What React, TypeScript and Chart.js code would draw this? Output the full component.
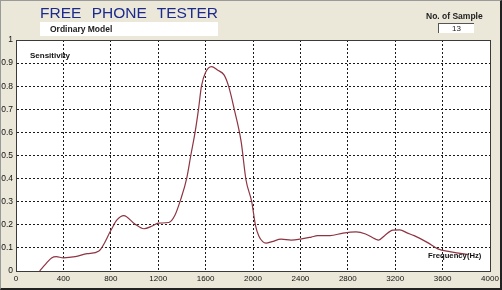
import React, { useEffect, useRef } from "react";
import { Chart, registerables } from "chart.js";

Chart.register(...registerables);

const freqHz = [
  200, 250, 300, 340, 400, 500, 600, 700, 800, 850, 910, 1000, 1080, 1150, 1200, 1290, 1340, 1390, 1440, 1475,
  1511, 1540, 1565, 1600, 1650, 1700, 1757, 1794, 1842, 1900, 1941, 1989, 2020, 2050, 2082, 2110, 2160, 2237,
  2322, 2400, 2492, 2545, 2650, 2760, 2870, 2950, 3030, 3060, 3110, 3180, 3240, 3300, 3360, 3470, 3560, 3660,
  3780, 3820,
];
const sensitivity = [
  0.0, 0.03, 0.056, 0.062, 0.057, 0.062, 0.075, 0.087, 0.175, 0.22, 0.24, 0.205, 0.183, 0.195, 0.207, 0.21,
  0.24, 0.31, 0.4, 0.5, 0.6, 0.7, 0.8, 0.86, 0.885, 0.87, 0.848, 0.8, 0.7, 0.56, 0.394, 0.3, 0.2, 0.15, 0.127,
  0.121, 0.127, 0.138, 0.134, 0.138, 0.147, 0.153, 0.153, 0.164, 0.169, 0.16, 0.139, 0.134, 0.153, 0.177,
  0.178, 0.165, 0.153, 0.124, 0.096, 0.084, 0.074, 0.072,
];
const xTicks = [0, 400, 800, 1200, 1600, 2000, 2400, 2800, 3200, 3600, 4000];
const yTicks = [0, 0.1, 0.2, 0.3, 0.4, 0.5, 0.6, 0.7, 0.8, 0.9, 1];
const yTickLabels = ["0", "0.1", "0.2", "0.3", "0.4", "0.5", "0.6", "0.7", "0.8", "0.9", "1"];

const BG = "#ebe8d9";

export default function App() {
  const ref = useRef<HTMLCanvasElement | null>(null);

  useEffect(() => {
    if (!ref.current) return;
    const bgPlugin = {
      id: "bgFrame",
      beforeDraw(chart: any) {
        const { ctx, chartArea: a } = chart;
        ctx.save();
        ctx.fillStyle = BG;
        ctx.fillRect(0, 0, chart.width, chart.height);
        ctx.fillStyle = "#ffffff";
        ctx.fillRect(a.left, a.top, a.right - a.left, a.bottom - a.top);
        ctx.restore();
      },
      afterDatasetsDraw(chart: any) {
        const { ctx, chartArea: a } = chart;
        ctx.save();
        ctx.strokeStyle = "#3a3a3a";
        ctx.lineWidth = 1;
        ctx.strokeRect(Math.round(a.left) + 0.5, Math.round(a.top) + 0.5, Math.round(a.right - a.left), Math.round(a.bottom - a.top));
        ctx.restore();
      },
    };
    const gridColor = (c: any) =>
      c.tick && (c.tick.value === 0 || c.tick.value === 4000 || c.tick.value === 1) ? "rgba(0,0,0,0)" : "#1a1a1a";
    const chart = new Chart(ref.current, {
      type: "line",
      data: {
        datasets: [
          {
            data: freqHz.map((f, i) => ({ x: f, y: sensitivity[i] })),
            borderColor: "#8e3442",
            borderWidth: 1.2,
            pointRadius: 0,
            cubicInterpolationMode: "monotone",
            fill: false,
          },
        ],
      },
      options: {
        responsive: false,
        animation: false,
        events: [],
        layout: { padding: { top: 40, left: 0, right: 12, bottom: 0 } },
        plugins: { legend: { display: false }, tooltip: { enabled: false } },
        scales: {
          x: {
            type: "linear",
            min: 0,
            max: 4000,
            afterBuildTicks: (axis: any) => {
              axis.ticks = xTicks.map((v) => ({ value: v }));
            },
            afterFit: (axis: any) => {
              axis.height = 19;
            },
            ticks: {
              autoSkip: false,
              maxRotation: 0,
              padding: 3,
              color: "#111",
              font: { family: "'Liberation Sans', Arial, sans-serif", size: 8 },
              callback: (v: any) => String(v),
            },
            grid: { color: gridColor, lineWidth: 1, drawTicks: false },
            border: { display: true, color: "#3a3a3a", dash: [2, 2] },
          },
          y: {
            min: 0,
            max: 1,
            afterBuildTicks: (axis: any) => {
              axis.ticks = yTicks.map((v) => ({ value: v }));
            },
            afterFit: (axis: any) => {
              axis.width = 16;
            },
            ticks: {
              autoSkip: false,
              padding: 3,
              color: "#111",
              font: { family: "'Liberation Sans', Arial, sans-serif", size: 8.5 },
              callback: (_v: any, i: number) => yTickLabels[i],
            },
            grid: { color: gridColor, lineWidth: 1, drawTicks: false },
            border: { display: true, color: "#3a3a3a", dash: [2, 2] },
          },
        },
      },
      plugins: [bgPlugin],
    } as any);
    return () => chart.destroy();
  }, []);

  const sans = "'Liberation Sans', Arial, sans-serif";
  return (
    <div
      style={{
        position: "absolute",
        left: 0,
        top: 0,
        width: 502,
        height: 290,
        background: BG,
        overflow: "hidden",
        fontFamily: sans,
      }}
    >
      <canvas ref={ref} width={502} height={290} style={{ position: "absolute", left: 0, top: 0, width: 502, height: 290 }} />
      <div
        style={{
          position: "absolute",
          left: 40,
          top: 4,
          fontSize: 15.5,
          lineHeight: "18px",
          color: "#1c2a8e",
          wordSpacing: 6,
          whiteSpace: "nowrap",
        }}
      >
        FREE PHONE TESTER
      </div>
      <div
        style={{
          position: "absolute",
          left: 40,
          top: 22,
          width: 178,
          height: 14,
          background: "#ffffff",
        }}
      >
        <span
          style={{
            position: "absolute",
            left: 10,
            top: 2,
            fontSize: 8.5,
            lineHeight: "10px",
            fontWeight: "bold",
            color: "#222",
            whiteSpace: "nowrap",
          }}
        >
          Ordinary Model
        </span>
      </div>
      <div
        style={{
          position: "absolute",
          left: 426,
          top: 11,
          fontSize: 8.5,
          lineHeight: "10px",
          fontWeight: "bold",
          color: "#222",
          whiteSpace: "nowrap",
        }}
      >
        No. of Sample
      </div>
      <div
        style={{
          position: "absolute",
          left: 438,
          top: 23,
          width: 35,
          height: 9,
          background: "#ffffff",
          borderTop: "1px solid #555",
          borderLeft: "1px solid #555",
          fontSize: 8,
          lineHeight: "9px",
          textAlign: "center",
          color: "#222",
        }}
      >
        13
      </div>
      <div
        style={{
          position: "absolute",
          left: 30,
          top: 51,
          fontSize: 8,
          lineHeight: "10px",
          fontWeight: "bold",
          color: "#111",
          whiteSpace: "nowrap",
        }}
      >
        Sensitivity
      </div>
      <div
        style={{
          position: "absolute",
          left: 428,
          top: 251,
          fontSize: 7.7,
          lineHeight: "10px",
          fontWeight: "bold",
          color: "#111",
          whiteSpace: "nowrap",
        }}
      >
        Frequency(Hz)
      </div>
      <div
        style={{
          position: "absolute",
          left: 0,
          top: 0,
          width: 502,
          height: 290,
          boxSizing: "border-box",
          borderTop: "1px solid #9a9a9a",
          borderLeft: "1px solid #9a9a9a",
          borderRight: "2px solid #222",
          borderBottom: "2px solid #222",
          pointerEvents: "none",
        }}
      />
    </div>
  );
}
